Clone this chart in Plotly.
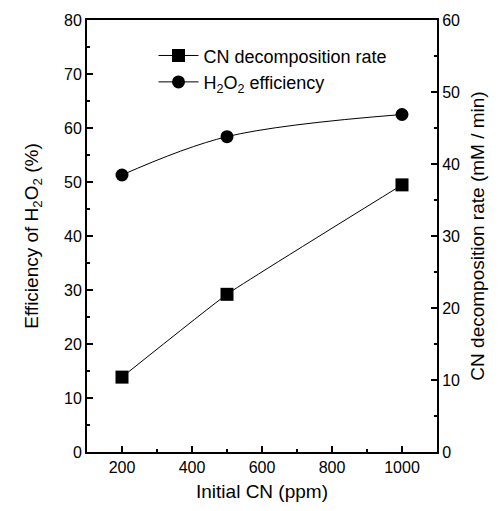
import plotly.graph_objects as go

# Initial cyanide concentration (ppm)
initial_cn = [200, 500, 1000]
# H2O2 efficiency (%), left axis
h2o2_eff = [51.3, 58.4, 62.5]
# CN decomposition rate (mM/min), right axis
cn_rate = [10.4, 21.9, 37.1]

font = dict(family="Liberation Sans, Arial, sans-serif", color="black")

fig = go.Figure()
fig.add_trace(go.Scatter(
    x=initial_cn, y=cn_rate, yaxis="y2", name="CN decomposition rate",
    mode="lines+markers", line=dict(color="black", width=1, shape="spline", smoothing=0.3),
    marker=dict(symbol="square", size=13, color="black"),
))
fig.add_trace(go.Scatter(
    x=initial_cn, y=h2o2_eff, name="H<sub>2</sub>O<sub>2</sub> efficiency",
    mode="lines+markers", line=dict(color="black", width=1, shape="spline"),
    marker=dict(symbol="circle", size=13, color="black"),
))

axis_common = dict(showline=True, linecolor="black", linewidth=2, ticks="inside",
                   ticklen=6, tickwidth=1.5, tickcolor="black", showgrid=False,
                   zeroline=False, tickfont=dict(size=16, **font))

fig.update_layout(
    width=502, height=511, plot_bgcolor="white", paper_bgcolor="white",
    margin=dict(l=87, r=65, t=15, b=58),
    font=font,
    xaxis=dict(range=[100, 1100], dtick=200, tick0=0, mirror=True,
               minor=dict(dtick=100, tick0=0, ticks="inside", ticklen=3, tickcolor="black"),
               title=dict(text="Initial CN (ppm)", font=dict(size=19, **font), standoff=9),
               **axis_common),
    yaxis=dict(range=[0, 80], dtick=10,
               minor=dict(dtick=5, ticks="inside", ticklen=3, tickcolor="black"),
               title=dict(text="Efficiency of H<sub>2</sub>O<sub>2</sub> (%)",
                          font=dict(size=19, **font), standoff=20),
               **axis_common),
    yaxis2=dict(range=[0, 60], dtick=10, overlaying="y", side="right",
                minor=dict(dtick=5, ticks="inside", ticklen=3, tickcolor="black"),
                title=dict(text="CN decomposition rate (mM / min)",
                           font=dict(size=19, **font), standoff=12),
                **axis_common),
    legend=dict(x=0.19, y=0.96, xanchor="left", yanchor="top",
                bgcolor="rgba(0,0,0,0)", font=dict(size=18, **font),
                tracegroupgap=0, itemwidth=40),
    showlegend=True,
)

fig.write_html("out.html")
